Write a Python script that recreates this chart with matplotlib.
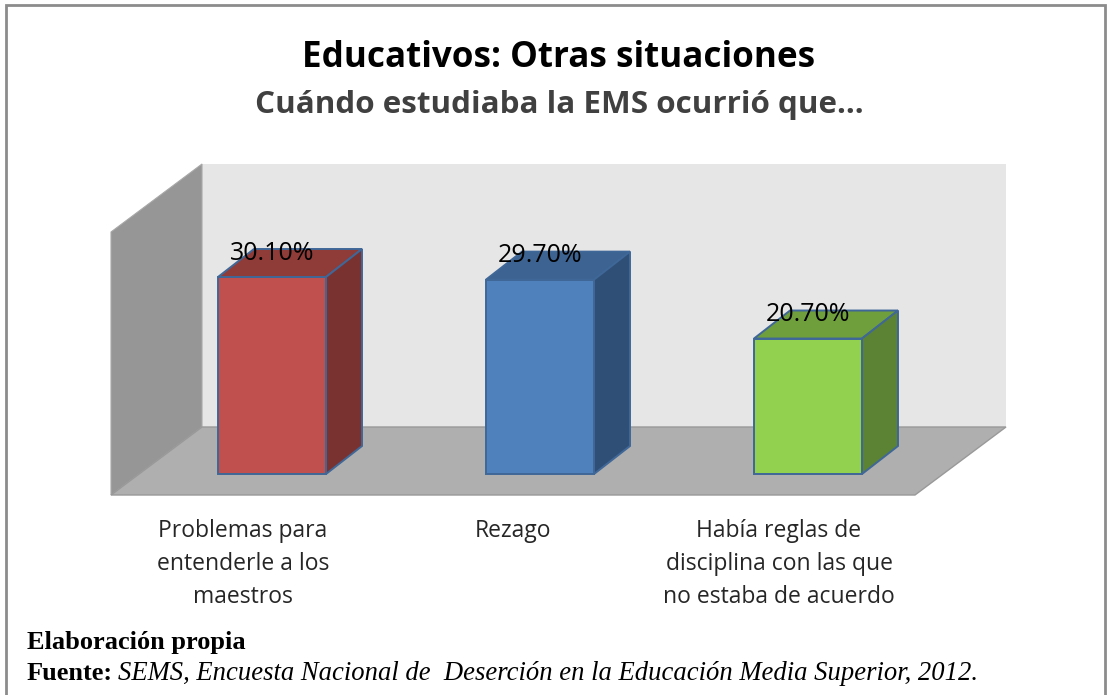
import matplotlib
matplotlib.use("Agg")
import matplotlib.pyplot as plt
from matplotlib.patches import Polygon

categories = ["Problemas para\nentenderle a los\nmaestros", "Rezago",
              "Había reglas de\ndisciplina con las que\nno estaba de acuerdo"]
values = [30.1, 29.7, 20.7]
value_labels = ["30.10%", "29.70%", "20.70%"]
front_colors = ["#C0504D", "#4F81BD", "#92D050"]
top_colors = ["#8F3B38", "#3C6391", "#6F9E3D"]
side_colors = ["#7A3230", "#2F4F77", "#5C8333"]
title = "Educativos: Otras situaciones"
subtitle = "Cuándo estudiaba la EMS ocurrió que..."

W, H = 1108, 695
PX = 197 / 30.1      # pixels per percentage point
BASE = 474           # pixel row of value 0
fig = plt.figure(figsize=(W / 100, H / 100), dpi=100, facecolor="white")
ax = fig.add_axes([0, 0, 1, 1])
ax.set_xlim(0, W)
ax.set_ylim(-(H - BASE) / PX, BASE / PX)
ax.axis("off")


def yv(py):
    return (BASE - py) / PX


def poly(pts, **kw):
    ax.add_patch(Polygon([(x, yv(y)) for x, y in pts], closed=True, **kw))


# frame
poly([(6, 5), (1105, 5), (1105, 700), (6, 700)], facecolor="white", edgecolor="#8C8C8C", lw=2, zorder=0)

# walls and floor
poly([(202, 164), (1006, 164), (1006, 427), (202, 427)], facecolor="#E6E6E6", edgecolor="none", zorder=1)
poly([(111, 232), (202, 164), (202, 427), (111, 495)], facecolor="#969696", edgecolor="#A8A8A8", lw=0.8, zorder=1)
poly([(111, 495), (915, 495), (1006, 427), (202, 427)], facecolor="#AFAFAF", edgecolor="#999999", lw=1, zorder=2)

# bars
lefts = [218, 486, 754]
bw = 108
dx, dy = 36, 28 / PX
edge = "#3F6797"
ax.bar(lefts, values, width=bw, align="edge", color=front_colors, edgecolor=edge, lw=1.4, zorder=4)
for x, v, tc, sc, lab in zip(lefts, values, top_colors, side_colors, value_labels):
    ax.add_patch(Polygon([(x, v), (x + bw, v), (x + bw + dx, v + dy), (x + dx, v + dy)],
                         facecolor=tc, edgecolor=edge, lw=1.4, zorder=3))
    ax.add_patch(Polygon([(x + bw, 0), (x + bw + dx, dy), (x + bw + dx, v + dy), (x + bw, v)],
                         facecolor=sc, edgecolor=edge, lw=1.4, zorder=3))
    ax.text(x + 54, v + dy - 4 / PX, lab, ha="center", va="center", fontsize=18,
            family="Open Sans", color="black", zorder=5)

label_x = [243, 513, 779]
for lx, cat in zip(label_x, categories):
    ax.text(lx, yv(519), cat, ha="center", va="top", fontsize=16.5, family="Open Sans",
            color="#262626", linespacing=1.5, zorder=5)

ax.text(559, yv(58), title, ha="center", va="center", fontsize=25.2, fontweight="bold",
        family="Open Sans", color="black")
ax.text(559, yv(105), subtitle, ha="center", va="center", fontsize=22.6, fontweight="bold",
        family="Open Sans", color="#404040")

ax.text(27, yv(643), "Elaboración propia", ha="left", va="center", fontsize=19,
        fontweight="bold", family="Liberation Serif", color="black")
ax.text(27, yv(674), "Fuente:", ha="left", va="center", fontsize=19,
        fontweight="bold", family="Liberation Serif", color="black")
ax.text(118, yv(674), "SEMS, Encuesta Nacional de  Deserción en la Educación Media Superior, 2012.",
        ha="left", va="center", fontsize=19.2, fontstyle="italic", family="Liberation Serif", color="black")

fig.savefig("out.png", dpi=100, facecolor="white")
